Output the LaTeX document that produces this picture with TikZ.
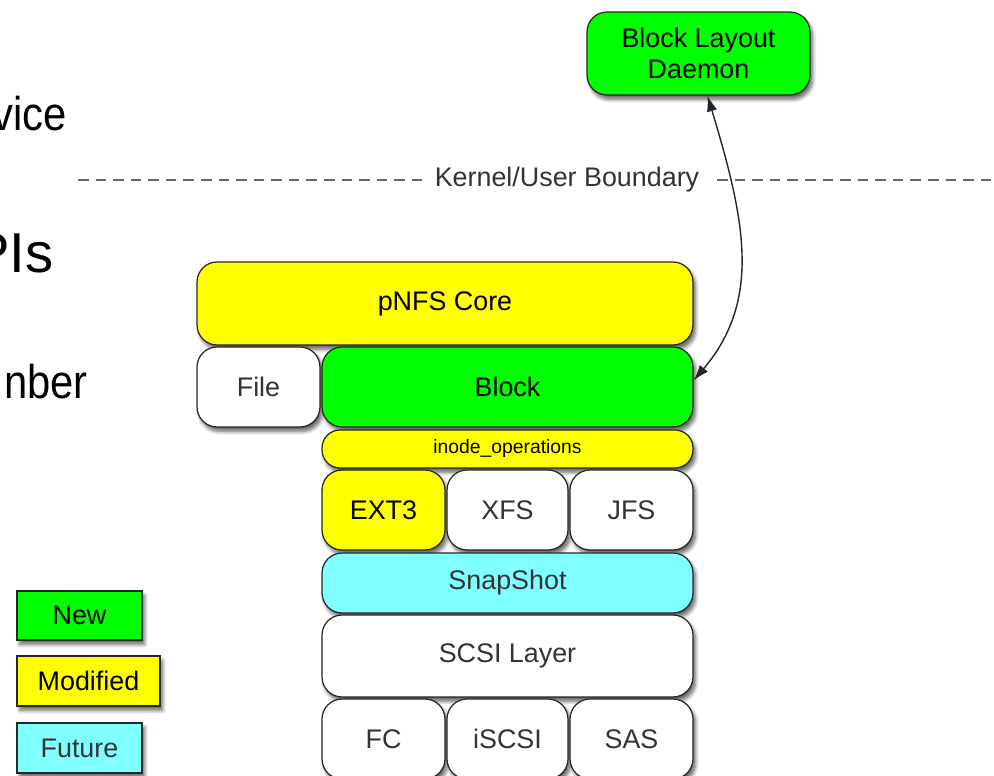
\documentclass[tikz,border=0pt]{standalone}
\usepackage{fontspec}
\setmainfont{Liberation Sans}
\newfontfamily\slidefont[FakeStretch=0.88]{Liberation Sans}
\usetikzlibrary{arrows.meta,shadows.blur}
\definecolor{newgreen}{HTML}{00FF00}
\definecolor{modyellow}{HTML}{FFFF00}
\definecolor{futcyan}{HTML}{7FFFFF}
\definecolor{txtgray}{HTML}{333333}

\begin{document}
\begin{tikzpicture}[x=0.02cm,y=-0.02cm,
        layer/.style={draw=black!85,line width=0.7pt,rounded corners=0.4cm,
            inner sep=0pt,font=\fontsize{15.3}{18}\selectfont,
            blur shadow={shadow xshift=1.5pt,shadow yshift=-2.5pt,
                shadow blur steps=6,shadow opacity=60}},
        legendbox/.style={layer,rounded corners=0pt},
        plain/.style={layer,fill=white,text=txtgray},
        boundary/.style={dashed,dash pattern=on 6pt off 4pt,line width=1pt,draw=black!60},
        bigtxt/.style={inner sep=0pt,font=\slidefont\fontsize{27}{30}\selectfont}]
                \useasboundingbox (0,0) rectangle (994,776);
                \clip (0,0) rectangle (994,776);

                \node[bigtxt,anchor=base east] (vice) at (67,131) {vice};
                \node[bigtxt,anchor=base east,font=\fontsize{32}{36}\selectfont] (apis) at (54,273) {PIs};
                \node[bigtxt,anchor=base east] (nber) at (88,399) {nber};

                \node[layer,fill=newgreen,align=center,minimum width=4.46cm,minimum height=1.66cm]
                    (daemon) at (698.5,53.5) {Block Layout\\Daemon};

                \coordinate (bl) at (78,180);
                \coordinate (br) at (994,180);
                \node[inner sep=0pt,text=txtgray,font=\fontsize{15.3}{18}\selectfont]
                    (kub) at (567,180) {Kernel/User Boundary};
                \draw[boundary] (bl) -- ([xshift=-4pt]kub.west);
                \draw[boundary] ([xshift=10pt]kub.east) -- (br);

                \node[layer,fill=modyellow,minimum width=9.92cm,minimum height=1.66cm]
                    (core) at (445,303.5) {pNFS Core};
                \node[plain,minimum width=2.46cm,minimum height=1.6cm]
                    (file) at (258.5,387) {File};
                \node[layer,fill=newgreen,minimum width=7.42cm,minimum height=1.6cm]
                    (block) at (507.5,387) {Block};
                \node[layer,fill=modyellow,rounded corners=0.36cm,minimum width=7.42cm,minimum height=0.76cm,
                    font=\fontsize{11}{13}\selectfont] (inode) at (507.5,449) {inode\_operations};

                \node[layer,fill=modyellow,minimum width=2.46cm,minimum height=1.6cm]
                    (ext3) at (383.5,510) {EXT3};
                \node[plain,minimum width=2.42cm,minimum height=1.6cm]
                    (xfs) at (507.5,510) {XFS};
                \node[plain,minimum width=2.46cm,minimum height=1.6cm]
                    (jfs) at (631.5,510) {JFS};

                \node[layer,fill=futcyan,text=txtgray,minimum width=7.42cm,minimum height=1.2cm]
                    (snap) at (507.5,583) {SnapShot};
                \node[plain,minimum width=7.42cm,minimum height=1.64cm]
                    (scsi) at (507.5,656) {SCSI Layer};

                \node[plain,minimum width=2.46cm,minimum height=1.6cm]
                    (fc) at (383.5,739) {FC};
                \node[plain,minimum width=2.42cm,minimum height=1.6cm]
                    (iscsi) at (507.5,739) {iSCSI};
                \node[plain,minimum width=2.46cm,minimum height=1.6cm]
                    (sas) at (631.5,739) {SAS};

                \node[legendbox,fill=newgreen,minimum width=2.5cm,minimum height=0.98cm]
                    (lnew) at (79.5,615.5) {New};
                \node[legendbox,fill=modyellow,minimum width=2.86cm,minimum height=1cm]
                    (lmod) at (88.5,681) {Modified};
                \node[legendbox,fill=futcyan,text=txtgray,minimum width=2.5cm,minimum height=1cm]
                    (lfut) at (79.5,748) {Future};

                \draw[{Latex[length=9pt,width=6pt]}-{Latex[length=9pt,width=6pt]},line width=0.8pt,black!85]
                    (daemon.-78) .. controls (745,220) and (762,300) .. (block.2);
\end{tikzpicture}
\end{document}
